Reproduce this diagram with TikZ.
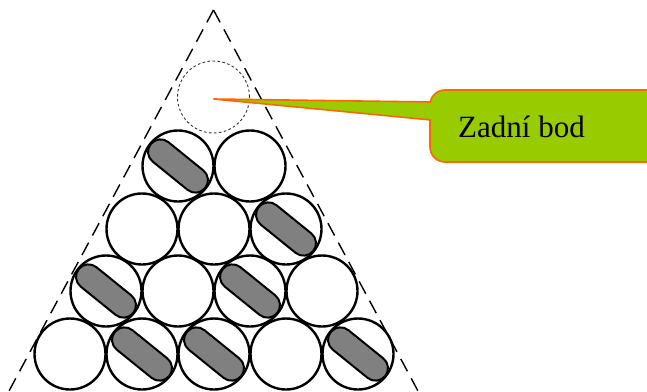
\documentclass[tikz,border=0pt]{standalone}
\usepackage{fontspec}
\setmainfont{Liberation Serif}
\definecolor{calloutgreen}{HTML}{99CC00}
\definecolor{calloutorange}{HTML}{FF6600}
\definecolor{pillgray}{HTML}{808080}
\begin{document}
\begin{tikzpicture}[x=1pt,y=-1pt,
  ball/.style={circle,draw=black,line width=2.4pt,fill=white,minimum size=71pt,inner sep=0pt},
  ghostball/.style={circle,draw=black!80,line width=0.9pt,dash pattern=on 2.6pt off 2.4pt,minimum size=72pt,inner sep=0pt},
  pill/.style={rectangle,rounded corners=12.5pt,draw=black,line width=2pt,fill=pillgray,minimum width=70pt,minimum height=25pt,inner sep=0pt,rotate=-39},
  sideline/.style={line width=1.4pt,dash pattern=on 14pt off 8pt},
  calloutbox/.style={rectangle,rounded corners=15pt,draw=calloutorange,line width=1.6pt,fill=calloutgreen,minimum width=240pt,minimum height=72pt,inner sep=0pt},
  label/.style={font=\fontsize{31}{36}\selectfont,inner sep=0pt}]
\useasboundingbox (0,0) rectangle (647,391);
\clip (0,0) rectangle (647,391);
% triangle sides
\coordinate (apex) at (213.5,10);
\coordinate (bl) at (9,391);
\coordinate (br) at (418,391);
\draw[sideline] (apex) -- (bl);
\draw[sideline] (apex) -- (br);
% row 1
\node[ball] (a1) at (70,354) {};
\node[ball] (a2) at (142,354) {};
\node[ball] (a3) at (214,354) {};
\node[ball] (a4) at (286,354) {};
\node[ball] (a5) at (358,354) {};
% row 2
\node[ball] (b1) at (106,291) {};
\node[ball] (b2) at (178,291) {};
\node[ball] (b3) at (250,291) {};
\node[ball] (b4) at (322,291) {};
% row 3
\node[ball] (c1) at (142,229) {};
\node[ball] (c2) at (214,229) {};
\node[ball] (c3) at (286,229) {};
% row 4
\node[ball] (d1) at (178,166) {};
\node[ball] (d2) at (250,166) {};
% ghost ball
\node[ghostball] (g) at (213.5,97) {};
% pills
\node[pill] (p1) at (d1) {};
\node[pill] (p2) at (c3) {};
\node[pill] (p3) at (b1) {};
\node[pill] (p4) at (b3) {};
\node[pill] (p5) at (a2) {};
\node[pill] (p6) at (a3) {};
\node[pill] (p7) at (a5) {};
% callout
\node[calloutbox] (zbbox) at (550,126) {};
\coordinate (tip) at (213.5,99);
\coordinate (pt1) at ([yshift=24pt]zbbox.west);
\coordinate (pt2) at ([yshift=6pt]zbbox.west);
\filldraw[draw=calloutorange,fill=calloutgreen,line width=1.6pt,line join=miter]
  ([xshift=2pt]pt1) -- (tip) -- ([xshift=2pt]pt2);
\fill[calloutgreen] ([xshift=-1.5pt,yshift=-0.8pt]pt1) rectangle ([xshift=4pt,yshift=0.8pt]pt2);
\node[label,anchor=base west] (zb) at (458,137) {Zadní bod};
\end{tikzpicture}
\end{document}
